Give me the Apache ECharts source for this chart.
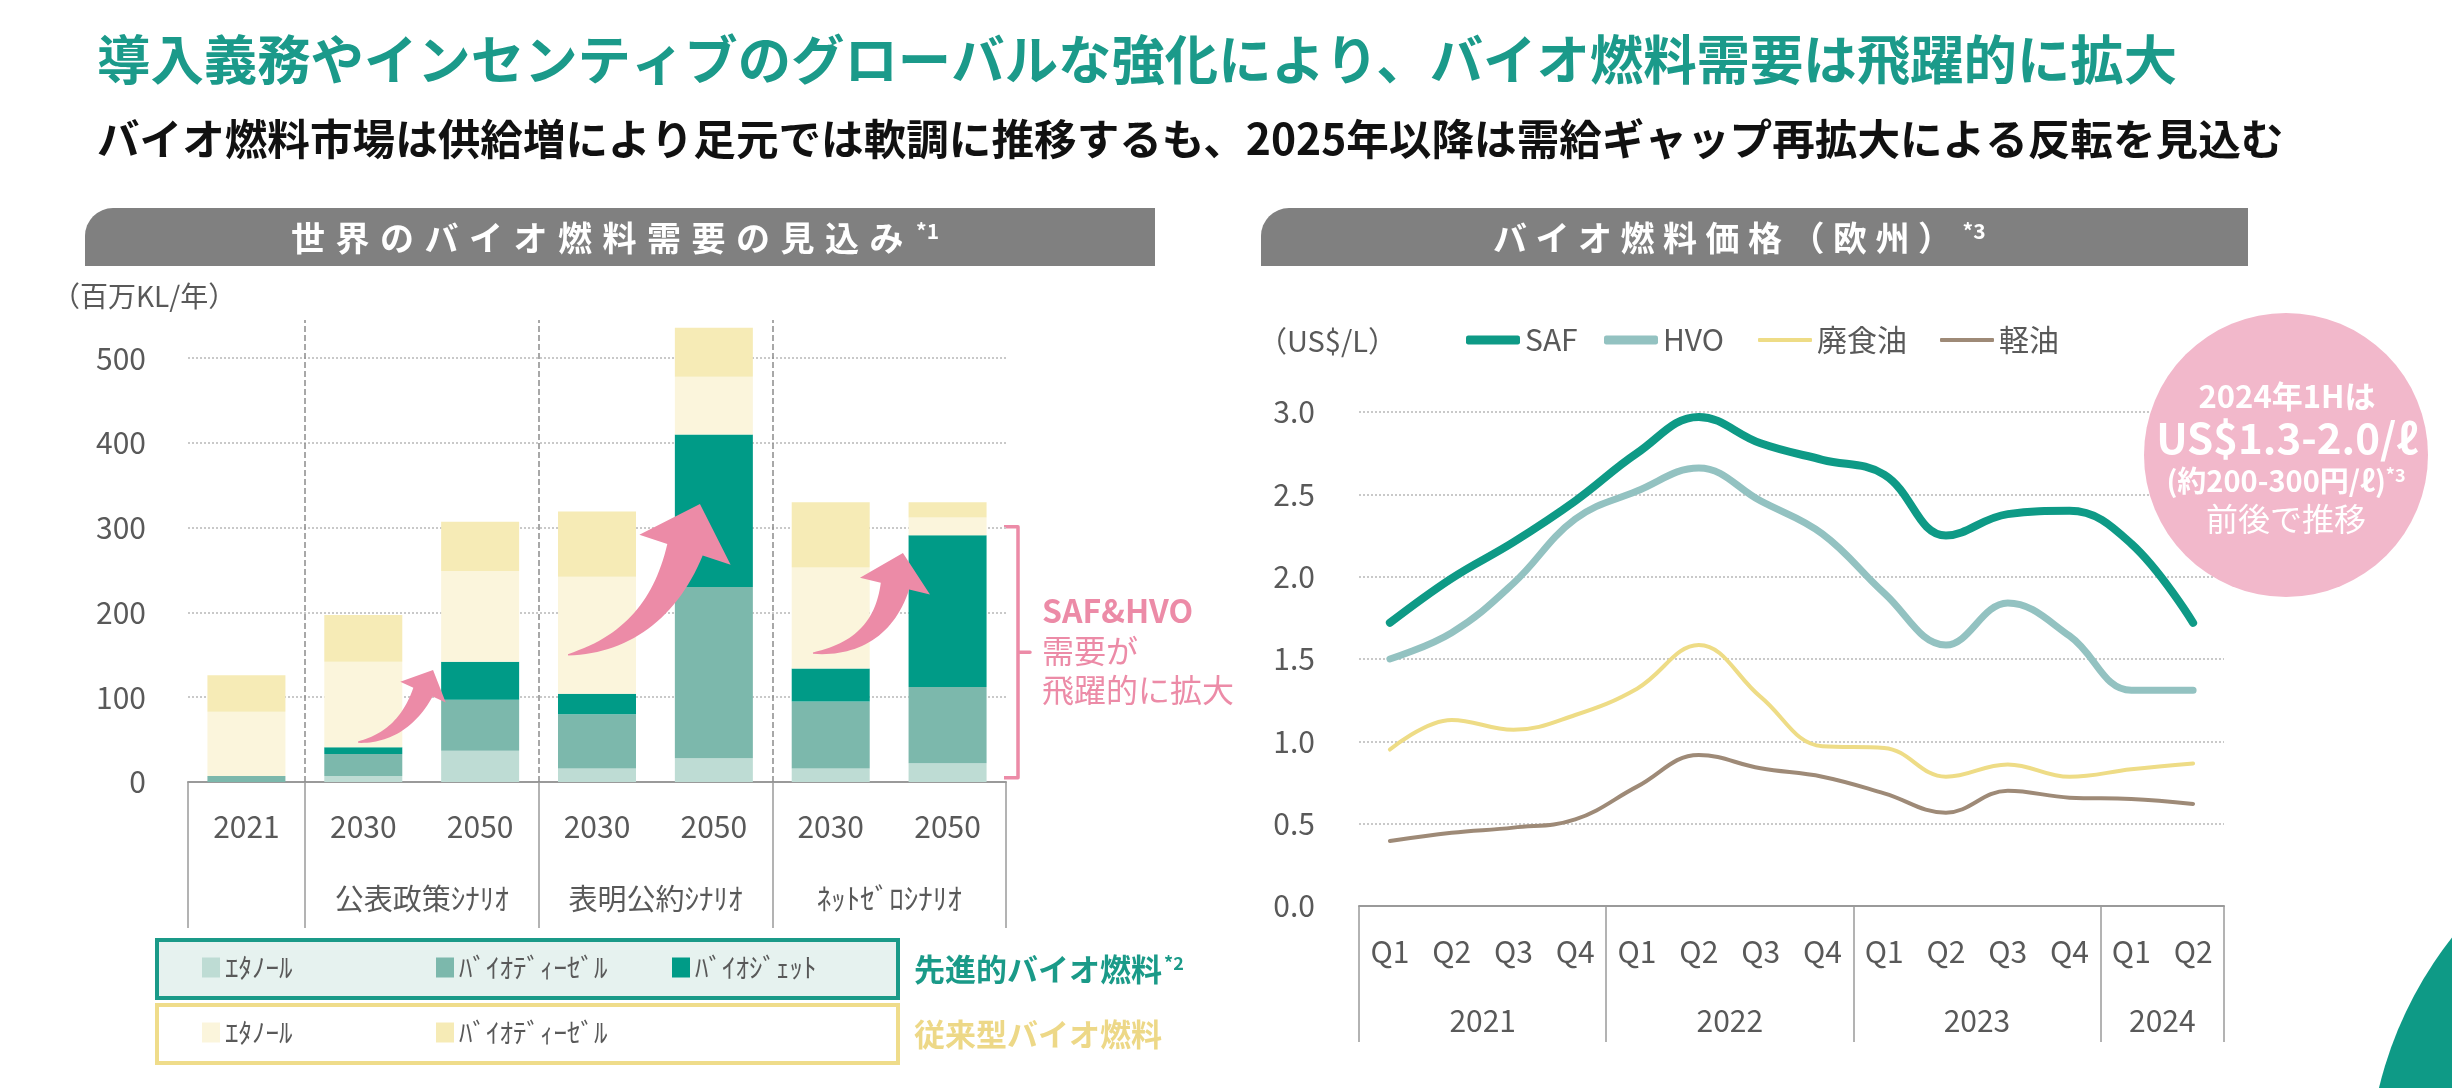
<!DOCTYPE html>
<html><head><meta charset="utf-8">
<script src="https://cdn.jsdelivr.net/npm/echarts@6.0.0/dist/echarts.min.js"></script>
<style>html,body{margin:0;padding:0;background:#fff;}#c{width:2452px;height:1088px;}</style>
</head><body><div id="c"></div>
<script>
// ---------- Left chart data (百万KL/年) ----------
const demandCategories = ['2021', '2030', '2050', '2030', '2050', '2030', '2050'];
const scenarioLabels = ['', '公表政策ｼﾅﾘｵ', '', '表明公約ｼﾅﾘｵ', '', 'ﾈｯﾄｾﾞﾛｼﾅﾘｵ', ''];
const advEthanol    = [0, 7, 37, 16, 28, 16, 22];
const advBiodiesel  = [7, 26, 60, 64, 202, 79, 90];
const bioJet        = [0, 8, 45, 24, 180, 39, 179];
const convEthanol   = [76, 101, 107, 138, 68, 119, 21];
const convBiodiesel = [43, 55, 58, 77, 58, 77, 18];
const demandTicks = [100, 200, 300, 400, 500];
const groupBounds = [1, 3, 5];

// ---------- Right chart data (US$/L) ----------
const quarters = ['Q1','Q2','Q3','Q4','Q1','Q2','Q3','Q4','Q1','Q2','Q3','Q4','Q1','Q2'];
const yearLabels = ['', '2021', '', '', '', '2022', '', '', '', '2023', '', '', '2024', ''];
const saf      = [1.72, 1.99, 2.21, 2.46, 2.75, 2.97, 2.81, 2.71, 2.62, 2.25, 2.38, 2.40, 2.20, 1.72];
const hvo      = [1.50, 1.66, 1.96, 2.35, 2.52, 2.66, 2.46, 2.26, 1.90, 1.585, 1.84, 1.64, 1.31, 1.31];
const wasteOil = [0.95, 1.13, 1.07, 1.16, 1.32, 1.585, 1.27, 0.97, 0.96, 0.785, 0.86, 0.785, 0.83, 0.866];
const gasOil   = [0.395, 0.445, 0.476, 0.526, 0.725, 0.917, 0.836, 0.785, 0.684, 0.567, 0.70, 0.658, 0.65, 0.62];

const FF = "'Noto Sans CJK JP','Noto Sans',sans-serif";
const GRAY = '#595959';
const PINK = '#EC8BA7';

const chart = echarts.init(document.getElementById('c'), null, {renderer: 'canvas'});

const barNames = ['先進的・ｴﾀﾉｰﾙ', '先進的・ﾊﾞｲｵﾃﾞｨｰｾﾞﾙ', '先進的・ﾊﾞｲｵｼﾞｪｯﾄ', '従来型・ｴﾀﾉｰﾙ', '従来型・ﾊﾞｲｵﾃﾞｨｰｾﾞﾙ'];
const barColors = ['#BEDCD4', '#7CB8AC', '#009B87', '#FBF5DC', '#F6EBB6'];
const barData = [advEthanol, advBiodiesel, bioJet, convEthanol, convBiodiesel];

const series = barData.map((d, i) => ({
  name: barNames[i], type: 'bar', stack: 'demand', xAxisIndex: 0, yAxisIndex: 0,
  barWidth: 78, data: d, itemStyle: {color: barColors[i]}, z: 3, silent: true
}));
// helper series for grid lines / separators
series.push({
  type: 'line', xAxisIndex: 2, yAxisIndex: 0, data: [], silent: true,
  markLine: {
    silent: true, symbol: 'none', z: 1, label: {show: false}, animation: false,
    data: demandTicks.map(v => ({yAxis: v, lineStyle: {type: 'dotted', color: '#c9c9c9', width: 2}}))
      .concat(groupBounds.map(v => ({xAxis: v, lineStyle: {type: 'dashed', color: '#8c8c8c', width: 1.5}})))
  }
});
const lineDefs = [
  {name: 'SAF', data: saf, color: '#0E9A86', width: 8},
  {name: 'HVO', data: hvo, color: '#93C2C1', width: 7},
  {name: '廃食油', data: wasteOil, color: '#EEDC86', width: 4},
  {name: '軽油', data: gasOil, color: '#9E8A77', width: 4}
];
lineDefs.slice().reverse().forEach(l => series.push({
  name: l.name, type: 'line', xAxisIndex: 3, yAxisIndex: 1, data: l.data, smooth: 0.4,
  symbol: 'none', lineStyle: {color: l.color, width: l.width, cap: 'round'}, itemStyle: {color: l.color}, silent: true
}));
const HELPER = 5;

// legends: one per item to control positions
const legends = [];
const barLegendPos = [[202, 954], [436, 954], [672, 954], [202, 1019], [436, 1019]];
barNames.forEach((n, i) => legends.push({
  data: [n], left: barLegendPos[i][0], top: barLegendPos[i][1], icon: 'rect',
  itemWidth: 18, itemHeight: 20, selectedMode: false, padding: 0,
  formatter: s => s.split('・')[1], textStyle: {fontSize: 27, color: GRAY, fontFamily: FF}
}));
const lineLegendLeft = [1466, 1604, 1758, 1940];
lineDefs.forEach((l, i) => legends.push({
  data: [l.name], left: lineLegendLeft[i], top: 325, icon: 'roundRect',
  itemWidth: 54, itemHeight: l.width > 5 ? 9 : 4, selectedMode: false, padding: 0,
  textStyle: {fontSize: 30, color: GRAY, fontFamily: FF}
}));

chart.setOption({
  animation: false,
  textStyle: {fontFamily: FF},
  grid: [
    {left: 188, right: 1446, top: 320, bottom: 306, outerBoundsMode: 'none'},
    {left: 1359, right: 228, top: 412, bottom: 182, outerBoundsMode: 'none'}
  ],
  xAxis: [
    {type: 'category', gridIndex: 0, data: demandCategories, position: 'bottom',
     axisLine: {lineStyle: {color: '#9a9a9a', width: 2}},
     axisTick: {show: true, length: 146, interval: (i) => i === 0 || groupBounds.includes(i), lineStyle: {color: '#9a9a9a', width: 1.5}},
     axisLabel: {interval: 0, margin: 30, fontSize: 30, color: GRAY, fontFamily: FF},
     splitLine: {show: false}},
    {type: 'category', gridIndex: 0, data: demandCategories, position: 'bottom',
     axisLine: {show: false}, axisTick: {show: false}, splitLine: {show: false},
     axisLabel: {interval: 0, margin: 102, formatter: (v, i) => scenarioLabels[i] ? '{s|' + scenarioLabels[i] + '}' : '',
       rich: {s: {fontSize: 29, color: GRAY, fontFamily: FF, padding: [0, 0, 0, 117]}}}},
    {type: 'value', gridIndex: 0, min: 0, max: 7, show: false},
    {type: 'category', gridIndex: 1, data: quarters, position: 'bottom',
     axisLine: {lineStyle: {color: '#9a9a9a', width: 2}},
     axisTick: {show: true, length: 136, interval: (i) => i % 4 === 0, lineStyle: {color: '#9a9a9a', width: 1.5}},
     axisLabel: {interval: 0, margin: 31, fontSize: 30, color: GRAY, fontFamily: FF},
     splitLine: {show: false}},
    {type: 'category', gridIndex: 1, data: quarters, position: 'bottom',
     axisLine: {show: false}, axisTick: {show: false}, splitLine: {show: false},
     axisLabel: {interval: 0, margin: 100, formatter: (v, i) => yearLabels[i] ? '{y|' + yearLabels[i] + '}' : '',
       rich: {y: {fontSize: 30, color: GRAY, fontFamily: FF, padding: [0, 0, 0, 62]}}}}
  ],
  yAxis: [
    {type: 'value', gridIndex: 0, min: 0, max: 545, interval: 100,
     axisLine: {show: false}, axisTick: {show: false}, splitLine: {show: false},
     axisLabel: {margin: 42, fontSize: 30, color: GRAY, fontFamily: FF, showMaxLabel: false,
       formatter: v => (v % 100 === 0 ? String(v) : '')}},
    {type: 'value', gridIndex: 1, min: 0, max: 3, interval: 0.5,
     axisLine: {show: false}, axisTick: {show: false},
     splitLine: {show: true, lineStyle: {type: 'dotted', color: '#c9c9c9', width: 2}},
     axisLabel: {margin: 44, fontSize: 30, color: GRAY, fontFamily: FF, formatter: v => v.toFixed(1)}}
  ],
  legend: legends,
  series: series
});

// ---------- annotations ----------
function px(p) { return chart.convertToPixel({seriesIndex: HELPER}, p); }

const arrows = [
  {tail: [1.455, 47], base: [2.011, 106], tip: [2.097, 132], neck: 20, head: 25},
  {tail: [3.252, 150], base: [4.253, 274], tip: [4.381, 328], neck: 36, head: 48},
  {tail: [5.348, 152], base: [6.050, 231], tip: [6.118, 270], neck: 28, head: 36}
];
function arrowPoints(a) {
  const T = px(a.tail), B = px(a.base), P = px(a.tip);
  const dx = P[0] - B[0], dy = P[1] - B[1], dl = Math.hypot(dx, dy);
  const d = [dx / dl, dy / dl];
  const L = Math.hypot(B[0] - T[0], B[1] - T[1]);
  const C = [B[0] - d[0] * L * 0.6, B[1] - d[1] * L * 0.6];
  const left = [], right = [];
  const N = 30;
  for (let i = 0; i <= N; i++) {
    const t = i / N;
    const x = (1 - t) * (1 - t) * T[0] + 2 * (1 - t) * t * C[0] + t * t * B[0];
    const y = (1 - t) * (1 - t) * T[1] + 2 * (1 - t) * t * C[1] + t * t * B[1];
    const tx = 2 * (1 - t) * (C[0] - T[0]) + 2 * t * (B[0] - C[0]);
    const ty = 2 * (1 - t) * (C[1] - T[1]) + 2 * t * (B[1] - C[1]);
    const tl = Math.hypot(tx, ty) || 1;
    const nx = -ty / tl, ny = tx / tl;
    const w = (a.neck / 2) * Math.pow(t, 0.85) + 0.6;
    left.push([x + nx * w, y + ny * w]);
    right.push([x - nx * w, y - ny * w]);
  }
  const n = [-d[1], d[0]];
  const head = [[B[0] + n[0] * a.head, B[1] + n[1] * a.head], P, [B[0] - n[0] * a.head, B[1] - n[1] * a.head]];
  return left.concat(head, right.reverse());
}

const bTop = px([7, 301]), bBot = px([7, 5]);
const bx = bTop[0] + 12, yT = bTop[1], yB = bBot[1], yM = (yT + yB) / 2;

// letter-spaced header text via rich tokens
function spaced(str) { return Array.from(str).map(c => '{c|' + c + '}').join(''); }
const headerRich = (fs, sp) => ({
  c: {fontSize: fs, fontWeight: 'bold', fill: '#fff', fontFamily: FF, padding: [0, sp, 0, 0]},
  b: {fontSize: 21, fontWeight: 'bold', fill: '#fff', fontFamily: FF, padding: [0, 0, 14, 2]}
});

const elements = [
  // titles
  {type: 'text', x: 97, y: 60, style: {text: '導入義務やインセンティブのグローバルな強化により、バイオ燃料需要は飛躍的に拡大',
    fontSize: 53.4, fontWeight: 'bold', fontFamily: FF, fill: '#1B9A8A', verticalAlign: 'middle'}},
  {type: 'text', x: 97, y: 139, style: {text: 'バイオ燃料市場は供給増により足元では軟調に推移するも、2025年以降は需給ギャップ再拡大による反転を見込む',
    fontSize: 42.6, fontWeight: 'bold', fontFamily: FF, fill: '#111', verticalAlign: 'middle'}},
  // header bars
  {type: 'rect', shape: {x: 85, y: 208, width: 1070, height: 58, r: [28, 0, 0, 0]}, style: {fill: '#808080'}},
  {type: 'text', x: 291, y: 238, style: {text: spaced('世界のバイオ燃料需要の見込み') + '{b|*1}', align: 'left', verticalAlign: 'middle',
    rich: headerRich(34, 10.5)}},
  {type: 'rect', shape: {x: 1261, y: 208, width: 987, height: 58, r: [28, 0, 0, 0]}, style: {fill: '#808080'}},
  {type: 'text', x: 1493, y: 238, style: {text: spaced('バイオ燃料価格（欧州）') + '{b|*3}', align: 'left', verticalAlign: 'middle',
    rich: headerRich(34, 8.5)}},
  // axis units
  {type: 'text', x: 52, y: 296, style: {text: '（百万KL/年）', fontSize: 28, fill: GRAY, fontFamily: FF, verticalAlign: 'middle'}},
  {type: 'text', x: 1258, y: 341, style: {text: '（US$/L）', fontSize: 29, fill: GRAY, fontFamily: FF, verticalAlign: 'middle'}},
  // legend boxes
  {type: 'rect', z: -1, shape: {x: 157, y: 940, width: 741, height: 58}, style: {fill: '#E6F2EF', stroke: '#1A9A88', lineWidth: 4}},
  {type: 'rect', z: -1, shape: {x: 157, y: 1005, width: 741, height: 58}, style: {fill: '#fff', stroke: '#EFDC8A', lineWidth: 4}},
  {type: 'text', x: 914, y: 969, style: {text: '{a|先進的バイオ燃料}{b|*2}', verticalAlign: 'middle',
    rich: {a: {fontSize: 31, fontWeight: 'bold', fill: '#1A9A88', fontFamily: FF}, b: {fontSize: 18, fontWeight: 'bold', fill: '#1A9A88', fontFamily: FF, padding: [0, 0, 12, 2]}}}},
  {type: 'text', x: 914, y: 1034, style: {text: '従来型バイオ燃料', fontSize: 31, fontWeight: 'bold', fill: '#EDD887', fontFamily: FF, verticalAlign: 'middle'}},
  // bracket + annotation
  {type: 'polyline', shape: {points: [[bx - 14, yT], [bx, yT], [bx, yM], [bx + 12, yM], [bx, yM], [bx, yB], [bx - 14, yB]]},
    style: {fill: null, stroke: PINK, lineWidth: 3.5, lineJoin: 'round'}},
  {type: 'text', x: bx + 24, y: yM - 2, style: {text: '{b|SAF&HVO}\n{n|需要が}\n{n|飛躍的に拡大}', verticalAlign: 'middle',
    rich: {b: {fontSize: 32, fontWeight: 'bold', fill: PINK, fontFamily: FF, lineHeight: 40},
           n: {fontSize: 32, fill: PINK, fontFamily: FF, lineHeight: 39}}}},
  // pink circle
  {type: 'circle', shape: {cx: 2286, cy: 455, r: 142}, style: {fill: '#F2B8CB'}},
  {type: 'text', x: 2287, y: 396, style: {text: '2024年1Hは', fontSize: 31, fontWeight: 'bold', fill: '#fff', fontFamily: FF, align: 'center', verticalAlign: 'middle'}},
  {type: 'text', x: 2287, y: 438, style: {text: 'US$1.3-2.0/ℓ', fontSize: 42, fontWeight: 'bold', fill: '#fff', fontFamily: FF, align: 'center', verticalAlign: 'middle'}},
  {type: 'text', x: 2286, y: 481, style: {text: '{a|(約200-300円/ℓ)}{s|*3}', align: 'center', verticalAlign: 'middle',
    rich: {a: {fontSize: 29, fontWeight: 'bold', fill: '#fff', fontFamily: FF}, s: {fontSize: 18, fontWeight: 'bold', fill: '#fff', fontFamily: FF, padding: [0, 0, 12, 0]}}}},
  {type: 'text', x: 2286, y: 519, style: {text: '前後で推移', fontSize: 32, fill: '#fff', fontFamily: FF, align: 'center', verticalAlign: 'middle'}},
  // corner shape
  {type: 'circle', shape: {cx: 2760, cy: 1180, r: 392}, style: {fill: '#0E9A86'}}
];
arrows.forEach(a => elements.push({type: 'polygon', z: 10, shape: {points: arrowPoints(a)}, style: {fill: PINK}}));

chart.setOption({graphic: {elements: elements}});
</script>
</body></html>
